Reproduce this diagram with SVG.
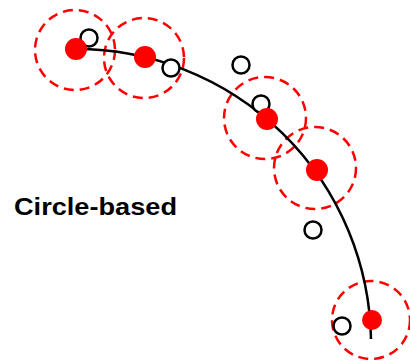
<svg xmlns="http://www.w3.org/2000/svg" width="410" height="364" viewBox="0 0 410 364">
  <style>
    .zone { fill: none; stroke: #ff0000; stroke-width: 2.5; stroke-dasharray: 10 6; }
    .dot { fill: #ff0000; }
    .obs { fill: #ffffff; stroke: #000000; stroke-width: 2.5; }
    .curve { fill: none; stroke: #000000; stroke-width: 2.5; }
    .label { font-family: "Liberation Sans", Arial, sans-serif; font-weight: bold; font-size: 24px; fill: #000000; }
  </style>
  <rect width="410" height="364" fill="#ffffff"/>

  <!-- dashed circular zones -->
  <g id="zones">
    <circle class="zone" cx="75" cy="50" r="40"/>
    <circle class="zone" cx="144" cy="58" r="40"/>
    <circle class="zone" cx="265" cy="118" r="41"/>
    <circle class="zone" cx="315" cy="168" r="41"/>
    <circle class="zone" cx="371" cy="320" r="39"/>
  </g>

  <!-- reference arc -->
  <g id="connectors">
    <path class="curve" d="M76,49 A295,295 0 0 1 371,339"/>
  </g>

  <!-- open measurement points -->
  <g id="observations">
    <circle class="obs" cx="89" cy="38" r="8.5"/>
    <circle class="obs" cx="171" cy="68" r="8.5"/>
    <circle class="obs" cx="241" cy="65" r="8.5"/>
    <circle class="obs" cx="261" cy="104" r="8.5"/>
    <circle class="obs" cx="313" cy="230" r="8.5"/>
    <circle class="obs" cx="342" cy="326" r="8.5"/>
  </g>

  <!-- filled centre points -->
  <g id="centres">
    <circle class="dot" cx="76" cy="49" r="11"/>
    <circle class="dot" cx="145" cy="57" r="11"/>
    <circle class="dot" cx="267" cy="119" r="11"/>
    <circle class="dot" cx="317" cy="170" r="11"/>
    <circle class="dot" cx="372" cy="320" r="10"/>
  </g>

  <g id="caption">
    <text class="label" x="14" y="215" textLength="163" lengthAdjust="spacingAndGlyphs">Circle-based</text>
  </g>
</svg>
